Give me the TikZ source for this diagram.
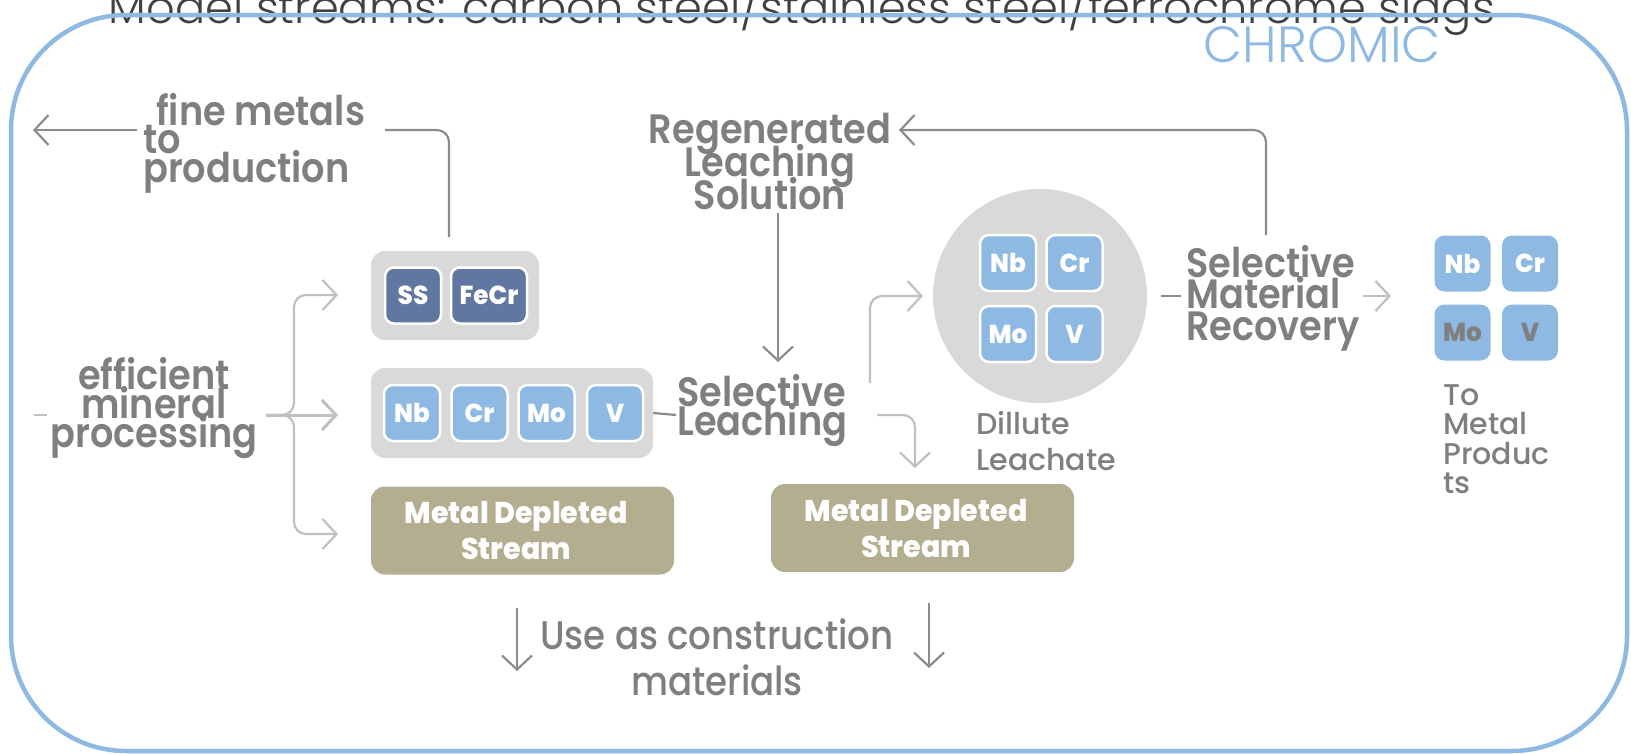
\documentclass[tikz,border=0pt]{standalone}
\usepackage{fontspec}
\setmainfont{Poppins}
\IfFontExistsTF{Poppins SemiBold}
  {\newfontfamily\pophd{Poppins SemiBold}[FakeStretch=0.895]}
  {\newfontfamily\pophd{Poppins}[FakeStretch=0.87]}
\IfFontExistsTF{Poppins Medium}
  {\newfontfamily\popmd{Poppins Medium}[FakeStretch=0.89]\newfontfamily\popmdw{Poppins Medium}}
  {\newfontfamily\popmd{Poppins}[FakeStretch=0.89]\newfontfamily\popmdw{Poppins}}
\IfFontExistsTF{Poppins Light}
  {\newfontfamily\poplt{Poppins Light}}
  {\newfontfamily\poplt{Poppins}}
\IfFontExistsTF{Poppins ExtraBold}
  {\newfontfamily\popxb{Poppins ExtraBold}[FakeStretch=0.95]}
  {\newfontfamily\popxb{Poppins}[FakeStretch=0.95]}
\usetikzlibrary{arrows.meta}
\definecolor{txt}{HTML}{7F7F7F}
\definecolor{ttl}{HTML}{404040}
\definecolor{frame}{HTML}{8DB9E3}
\definecolor{tileA}{HTML}{5F77A1}
\definecolor{tileB}{HTML}{8DB9E3}
\definecolor{grp}{HTML}{D9D9D9}
\definecolor{mds}{HTML}{B3AE90}
\definecolor{arrD}{HTML}{8C8C8C}
\definecolor{arrL}{HTML}{C0C0C0}
\newcommand\headfont{\pophd\fontsize{41}{41}\selectfont}
\newcommand\labfont{\popmdw\fontsize{30}{30}\selectfont}
\newcommand\tilefont{\popxb\fontsize{26}{26}\selectfont}
\newcommand\mdsfont{\popxb\fontsize{30}{30}\selectfont}
\newcommand\titlefont{\poplt\fontsize{46}{46}\selectfont}
\newcommand\chromfont{\poplt\fontsize{50}{50}\selectfont}
\newcommand\usagefont{\popmd\fontsize{40}{40}\selectfont}
% multi-line helpers: baseline of the box = baseline of first line
\newcommand\clines[2]{\vtop{\baselineskip=#1\lineskiplimit=-\maxdimen\lineskip=0pt\halign{\hfil##\hfil\cr#2\crcr}}}
\newcommand\llines[2]{\vtop{\baselineskip=#1\lineskiplimit=-\maxdimen\lineskip=0pt\halign{##\hfil\cr#2\crcr}}}
\begin{document}
\begin{tikzpicture}[x=1pt,y=-1pt,
  tile/.style={draw=white, line width=2.5pt, fill=tileB, rounded corners=9pt, minimum width=56pt, minimum height=56pt, inner sep=0pt, text=white, font=\tilefont},
  darktile/.style={tile, fill=tileA},
  plaintile/.style={tile, draw=none},
  grpbox/.style={fill=grp, draw=none, rounded corners=14pt, inner sep=0pt},
  mdsbox/.style={fill=mds, draw=none, rounded corners=14pt, inner sep=0pt, minimum width=303pt, minimum height=88pt},
  head/.style={text=txt, font=\headfont, inner sep=0pt},
  lab/.style={text=txt, font=\labfont, inner sep=0pt},
  darr/.style={draw=arrD, line width=2.2pt, rounded corners=12pt, -{Straight Barb[length=14pt,width=30pt]}},
  larr/.style={darr, draw=arrL},
  dline/.style={draw=arrD, line width=2.2pt, rounded corners=12pt},
  lline/.style={dline, draw=arrL}]
\useasboundingbox (0,0) rectangle (1631,753);

% title and frame
\node[anchor=base, text=ttl, font=\titlefont, inner sep=0pt] (title) at (802,23)
  {\resizebox{1386pt}{!}{Model streams: carbon steel/stainless steel/ferrochrome slags}};
\draw[draw=frame, line width=4.5pt, rounded corners=115pt] (11,15) rectangle (1627,751);
\node[anchor=base east, text=frame, font=\chromfont, inner sep=0pt] (chromic) at (1441,62) {\resizebox{237pt}{36pt}{CHROMIC}};

% group boxes
\node[grpbox, minimum width=168pt, minimum height=89pt] (g1) at (455,295.5) {};
\node[darktile] (ss) at (413,295.5) {SS};
\node[darktile, minimum width=76pt] (fecr) at (489,295.5) {FeCr};

\node[grpbox, minimum width=282pt, minimum height=90pt] (g2) at (512,413) {};
\node[tile] (nb1) at (412,413) {Nb};
\node[tile] (cr1) at (479.5,413) {Cr};
\node[tile] (mo1) at (546.5,413) {Mo};
\node[tile] (v1) at (615,413) {V};

\node[mdsbox] (md1) at (522.5,530.5) {};
\node[anchor=base, text=white, font=\mdsfont, inner sep=0pt] (md1t) at (516,523) {\clines{36pt}{Metal Depleted\cr Stream}};
\node[mdsbox] (md2) at (922.5,528) {};
\node[anchor=base, text=white, font=\mdsfont, inner sep=0pt] (md2t) at (916,521) {\clines{36pt}{Metal Depleted\cr Stream}};

% circle
\node[circle, fill=grp, minimum size=214pt, inner sep=0pt] (circ) at (1040,296) {};
\node[tile] (nb2) at (1008,263) {Nb};
\node[tile] (cr2) at (1074.5,263) {Cr};
\node[tile] (mo2) at (1008,334) {Mo};
\node[tile] (v2) at (1074.5,334) {V};

% right tiles
\node[plaintile, rounded corners=10pt] (nb3) at (1462.5,263.5) {Nb};
\node[plaintile, rounded corners=10pt] (cr3) at (1530,263.5) {Cr};
\node[plaintile, rounded corners=10pt, text=txt] (mo3) at (1462.5,332.5) {Mo};
\node[plaintile, rounded corners=10pt, text=txt] (v3) at (1530,332.5) {V};

% text labels
\node[head, anchor=base west] (fm) at (143,125) {\llines{28.5pt}{\hspace{13pt}fine metals\cr to\cr production}};
\node[head, anchor=base] (emp) at (154,389) {\clines{29pt}{efficient\cr mineral\cr processing}};
\node[head, anchor=base] (rls) at (770,143) {\clines{33pt}{Regenerated\cr Leaching\cr Solution}};
\node[head, anchor=base west] (sl) at (677,406) {\llines{29pt}{Selective\cr Leaching}};
\node[head, anchor=base west] (smr) at (1186,277) {\llines{31.5pt}{Selective\cr Material\cr Recovery}};
\node[lab, anchor=base west] (dl) at (976,434) {\llines{36pt}{Dillute\cr Leachate}};
\node[lab, anchor=base west] (tmp) at (1443,405) {\llines{29.5pt}{To\cr Metal\cr Produc\cr ts}};
\node[text=txt, font=\usagefont, inner sep=0pt, anchor=base] (use) at (717,649) {\clines{46pt}{Use as construction\cr materials}};

% connectors
\coordinate (fmR) at (385,130);
\coordinate (fmL) at (137,130);
\coordinate (outL) at (33,130);
\coordinate (g1up) at (449,237);
\draw[dline] (g1up) |- (fmR);
\draw[darr] (fmL) -- (outL);

\coordinate (smrup) at (1266,235);
\coordinate (rlsR) at (899,130);
\draw[darr] (smrup) |- (rlsR);

\coordinate (rlsB) at (778,213);
\coordinate (slT) at (778,362);
\draw[darr] (rlsB) -- (slT);

\draw[dline] (g2.east) -- (676,415);

\coordinate (inL) at (34,415);
\coordinate (inR) at (47,415);
\draw[lline] (inL) -- (inR);

\coordinate (br) at (266,415);
\coordinate (brx) at (294,415);
\draw[larr, line width=3pt] (br) -- (338,415);
\draw[larr] (br) -- (brx) |- (338,295);
\draw[larr] (br) -- (brx) |- (338,534);

\coordinate (slU) at (870,383);
\coordinate (circIn) at (923,296);
\draw[larr] (slU) |- (circIn);
\coordinate (slD) at (877,415);
\coordinate (mdIn) at (915,468);
\draw[larr] (slD) -| (mdIn);

\draw[dline] (1161,296) -- (1181,296);
\draw[larr] (1363,296) -- (1391,296);

\coordinate (u1a) at (517,608);
\coordinate (u1b) at (517,671);
\draw[darr] (u1a) -- (u1b);
\coordinate (u2a) at (929,603);
\coordinate (u2b) at (929,668);
\draw[darr] (u2a) -- (u2b);
\end{tikzpicture}
\end{document}
